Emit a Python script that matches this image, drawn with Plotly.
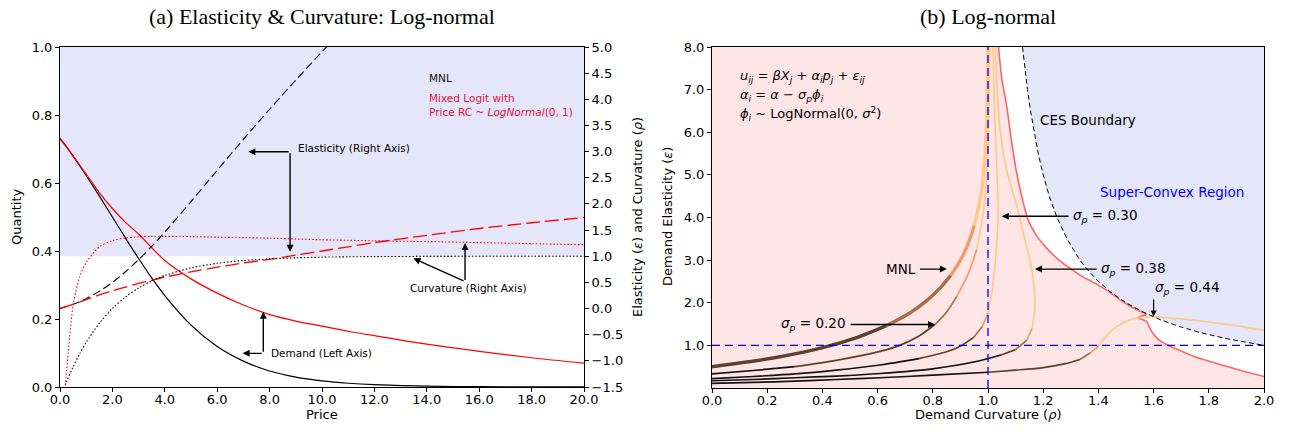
import plotly.graph_objects as go

W, H = 1291, 431
SANS = "DejaVu Sans"
SERIF = "Liberation Serif"


def fx(px):
    """x pixel -> paper fraction"""
    return px / W


def fy(py):
    """y pixel (from top) -> paper fraction"""
    return 1 - py / H


# ---------------- panel (a): quantities along the price path ----------------
price = [0, 0.25, 0.5, 0.75, 1, 1.5, 2, 2.5, 3, 3.5, 4, 5, 6, 7, 8, 9, 10, 11, 12, 14, 16, 18, 20]

mnl_demand = [0.731, 0.706, 0.679, 0.651, 0.622, 0.562, 0.500, 0.438, 0.378, 0.321, 0.269,
              0.182, 0.119, 0.076, 0.047, 0.029, 0.018, 0.011, 0.0067, 0.0025, 0.0009, 0.0003, 0.0001]
mnl_elasticity = [0.0, 0.037, 0.080, 0.131, 0.189, 0.328, 0.500, 0.703, 0.934, 1.188, 1.462,
                  2.044, 2.642, 3.234, 3.810, 4.368, 4.910, 5.44, 5.96, 6.98, 7.99, 9.0, 10.0]
mnl_curvature = [-1.717, -1.401, -1.115, -0.865, -0.646, -0.283, 0.0, 0.221, 0.394, 0.527, 0.632,
                 0.777, 0.865, 0.918, 0.950, 0.970, 0.982, 0.989, 0.993, 0.997, 0.999, 1.0, 1.0]

mixed_demand = [0.731, 0.706, 0.680, 0.653, 0.626, 0.572, 0.525, 0.484, 0.450, 0.410, 0.372,
                0.318, 0.276, 0.241, 0.213, 0.194, 0.179, 0.164, 0.151, 0.126, 0.105, 0.086, 0.070]
mixed_elasticity = [0.0, 0.04, 0.08, 0.125, 0.17, 0.26, 0.34, 0.41, 0.48, 0.54, 0.60,
                    0.70, 0.79, 0.87, 0.94, 1.02, 1.10, 1.18, 1.26, 1.40, 1.53, 1.64, 1.74]
mixed_curvature = [-2.6, -1.2, 0.06, 0.6, 0.88, 1.18, 1.30, 1.35, 1.37, 1.38, 1.38,
                   1.375, 1.365, 1.355, 1.345, 1.33, 1.315, 1.305, 1.295, 1.28, 1.26, 1.24, 1.22]

price_ticks = [0, 2, 4, 6, 8, 10, 12, 14, 16, 18, 20]
price_ticktext = ["0.0", "2.0", "4.0", "6.0", "8.0", "10.0", "12.0", "14.0", "16.0", "18.0", "20.0"]
qty_ticks = [0, 0.2, 0.4, 0.6, 0.8, 1.0]
qty_ticktext = ["0.0", "0.2", "0.4", "0.6", "0.8", "1.0"]
rhs_ticks = [-1.5, -1.0, -0.5, 0, 0.5, 1.0, 1.5, 2.0, 2.5, 3.0, 3.5, 4.0, 4.5, 5.0]
rhs_ticktext = ["\u22121.5", "\u22121.0", "\u22120.5", "0.0", "0.5", "1.0", "1.5", "2.0",
                "2.5", "3.0", "3.5", "4.0", "4.5", "5.0"]

# ---------------- panel (b): curvature / elasticity paths ----------------
# MNL path
mnl_price = [2, 2.5, 3, 3.5, 4, 4.5, 5, 5.5, 6, 6.5, 7, 7.5, 8, 9, 10, 11, 12, 13, 14, 15, 16, 16.5]
mnl_rho = [0.0, 0.221, 0.394, 0.527, 0.632, 0.714, 0.777, 0.826, 0.865, 0.895, 0.918, 0.936,
           0.950, 0.970, 0.982, 0.989, 0.993, 0.996, 0.9975, 0.9985, 0.9991, 0.9993]
mnl_eps = [0.5, 0.703, 0.934, 1.188, 1.462, 1.749, 2.044, 2.343, 2.642, 2.940, 3.234, 3.525,
           3.810, 4.368, 4.910, 5.44, 5.96, 6.47, 6.98, 7.49, 7.99, 8.24]

# sigma_p = 0.20
s20_price = [1.0, 1.5, 2.2, 2.9, 3.5, 3.8, 3.95, 4.4, 5.2, 6.0, 6.8, 8.0, 9, 10, 11, 12, 13]
s20_rho = [0.0, 0.15, 0.3, 0.45, 0.609, 0.68, 0.75, 0.808, 0.85, 0.887, 0.93, 0.959, 0.983,
           0.995, 1.002, 1.005, 1.006]
s20_eps = [0.33, 0.41, 0.5, 0.65, 0.86, 1.0, 1.22, 1.49, 1.78, 2.15, 2.7, 3.25, 4.1, 5.0, 6.0, 7.0, 8.0]

# sigma_p = 0.30
s30_price = [0.8, 1.0, 1.2, 1.4, 1.7, 2.0, 2.8, 3.6, 4.4, 6.0, 8.0, 9, 10, 11, 12, 13, 14, 15, 16]
s30_rho = [0.0, 0.15, 0.3, 0.45, 0.609, 0.75, 0.85, 0.9, 0.95, 0.98, 1.0, 1.015, 1.025, 1.033,
           1.037, 1.035, 1.03, 1.024, 1.018]
s30_eps = [0.22, 0.27, 0.33, 0.42, 0.54, 0.69, 0.85, 0.98, 1.2, 1.45, 1.76, 2.3, 2.85, 3.5,
           4.0, 4.7, 5.5, 6.5, 8.0]

# sigma_p = 0.38
s38_price = [0.5, 0.6, 0.7, 0.8, 1.0, 1.5, 1.9, 2.6, 4.0, 6.0, 8.0, 9, 10, 11, 12, 13, 14, 15, 16, 17]
s38_rho = [0.0, 0.15, 0.3, 0.45, 0.609, 0.8, 0.97, 1.05, 1.1, 1.14, 1.16, 1.17, 1.165, 1.155,
           1.128, 1.098, 1.068, 1.045, 1.033, 1.027]
s38_eps = [0.17, 0.2, 0.24, 0.28, 0.34, 0.45, 0.64, 0.78, 0.9, 1.12, 1.4, 1.9, 2.5, 2.9,
           3.64, 4.42, 5.1, 6.0, 7.0, 8.0]

# sigma_p = 0.44
s44_price = [0.3, 0.4, 0.5, 0.6, 0.7, 0.9, 2.0, 2.4, 2.8, 3.4, 4.3, 6.0, 8.0, 9, 10, 11, 12,
             13, 14, 15, 16]
s44_rho = [0.0, 0.15, 0.3, 0.45, 0.609, 0.8, 1.0, 1.1, 1.2, 1.28, 1.333, 1.37, 1.4, 1.44, 1.49,
           1.545, 1.6, 1.7, 1.82, 1.92, 2.0]
s44_eps = [0.11, 0.13, 0.16, 0.2, 0.24, 0.3, 0.37, 0.42, 0.48, 0.57, 0.67, 0.82, 0.98, 1.3,
           1.53, 1.65, 1.67, 1.62, 1.53, 1.44, 1.35]

# edge of the attainable (log-normal) region
edge_rho = [1.038, 1.05, 1.068, 1.085, 1.104, 1.124, 1.145, 1.175, 1.21, 1.25, 1.29, 1.34, 1.39,
            1.44, 1.48, 1.52, 1.555, 1.575, 1.558, 1.545, 1.552, 1.575, 1.585, 1.6, 1.625, 1.66,
            1.71, 1.76, 1.82, 1.88, 1.94, 2.0]
edge_eps = [8.0, 7.25, 6.6, 5.8, 5.04, 4.45, 3.95, 3.58, 3.3, 3.04, 2.84, 2.62, 2.45, 2.25, 2.06,
            1.9, 1.79, 1.72, 1.69, 1.66, 1.62, 1.56, 1.42, 1.26, 1.1, 0.98, 0.84, 0.71, 0.59,
            0.48, 0.37, 0.27]

# CES boundary
ces_eps = [8.0, 7.5, 7.0, 6.5, 6.0, 5.5, 5.0, 4.5, 4.0, 3.5, 3.0, 2.75, 2.5, 2.25, 2.0, 1.8,
           1.6, 1.45, 1.3, 1.15, 1.0]
ces_rho = [1.125, 1.133, 1.143, 1.154, 1.167, 1.182, 1.2, 1.222, 1.25, 1.286, 1.333, 1.364, 1.4,
           1.444, 1.5, 1.556, 1.625, 1.690, 1.769, 1.870, 2.0]

rho_ticks = [0.0, 0.2, 0.4, 0.6, 0.8, 1.0, 1.2, 1.4, 1.6, 1.8, 2.0]
rho_ticktext = ["0.0", "0.2", "0.4", "0.6", "0.8", "1.0", "1.2", "1.4", "1.6", "1.8", "2.0"]
eps_ticks = [1, 2, 3, 4, 5, 6, 7, 8]
eps_ticktext = ["1.0", "2.0", "3.0", "4.0", "5.0", "6.0", "7.0", "8.0"]

RHO_MAX, EPS_MAX = 2.0, 8.0

fig = go.Figure()


def line(x, y, color, width=1.2, dash="solid", xa="x", ya="y", shape="spline", smoothing=0.8):
    fig.add_trace(go.Scatter(x=x, y=y, mode="lines", xaxis=xa, yaxis=ya, hoverinfo="skip",
                             line=dict(color=color, width=width, dash=dash, shape=shape,
                                       smoothing=smoothing if shape == "spline" else None)))


# ---- panel (a) ----
line(price, mnl_demand, "black")
line(price, mixed_demand, "red")
line(price, mnl_elasticity, "black", 1.1, "8px,4px", ya="y2")
line(price, mixed_elasticity, "red", 1.3, "14px,5px", ya="y2")
line(price, mnl_curvature, "black", 1.1, "1.5px,2px", ya="y2")
line(price, mixed_curvature, "red", 1.1, "1.5px,2px", ya="y2")

# ---- panel (b) ----
# attainable region (pink) and super-convex region (lavender)
fig.add_trace(go.Scatter(x=[0, 0] + edge_rho + [RHO_MAX], y=[0, EPS_MAX] + edge_eps + [0],
                         mode="lines", fill="toself", fillcolor="rgb(255,230,230)",
                         line=dict(width=0), xaxis="x2", yaxis="y3", hoverinfo="skip"))
fig.add_trace(go.Scatter(x=ces_rho + [RHO_MAX], y=ces_eps + [EPS_MAX],
                         mode="lines", fill="toself", fillcolor="rgb(230,230,250)",
                         line=dict(width=0), xaxis="x2", yaxis="y3", hoverinfo="skip"))


def copper(t):
    return "rgba(%d,%d,%d,0.92)" % (round(255 * min(1.0, 1.25 * t)), round(255 * 0.7812 * t),
                                    round(255 * 0.4975 * t))


def price_level(p):
    return min(4, int(p // 2)) / 4.0


def colored_path(rho, eps, prc, width):
    levels = [price_level(p) for p in prc]
    n = len(rho)
    i = 0
    while i < n - 1:
        j = i
        while j + 1 < n - 1 and levels[j + 1] == levels[i]:
            j += 1
        line(rho[i:j + 2], eps[i:j + 2], copper(levels[i]), width, xa="x2", ya="y3",
             smoothing=0.7)
        i = j + 1


line(edge_rho, edge_eps, "rgba(255,85,85,0.9)", 1.6, xa="x2", ya="y3", smoothing=0.5)
colored_path(s44_rho, s44_eps, s44_price, 1.7)
colored_path(s38_rho, s38_eps, s38_price, 1.7)
colored_path(s30_rho, s30_eps, s30_price, 1.7)
colored_path(s20_rho, s20_eps, s20_price, 1.7)
colored_path(mnl_rho, mnl_eps, mnl_price, 3.4)

line([1.0, 1.0], [0, EPS_MAX], "blue", 1.3, "8px,5px", xa="x2", ya="y3", shape="linear")
line([0, RHO_MAX], [1.0, 1.0], "blue", 1.3, "8px,5px", xa="x2", ya="y3", shape="linear")
line(ces_rho, ces_eps, "black", 1.0, "5px,3px", xa="x2", ya="y3", shape="linear")


# ---- text and arrows ----
def label(x, y, text, xref="x", yref="y", size=10.5, color="black", xanchor="left",
          family=SANS, angle=0):
    return dict(x=x, y=y, xref=xref, yref=yref, text=text, showarrow=False, xanchor=xanchor,
                yanchor="middle", textangle=angle, font=dict(family=family, size=size, color=color))


def arrow(x0, y0, x1, y1, xref="x", yref="y", width=1.4):
    return dict(x=x1, y=y1, ax=x0, ay=y0, xref=xref, yref=yref, axref=xref, ayref=yref,
                text="", showarrow=True, arrowhead=2, arrowsize=1, arrowwidth=width,
                arrowcolor="black", standoff=0, startstandoff=0)


ann = [
    # titles
    label(fx(322), fy(17), "(a) Elasticity &amp; Curvature: Log-normal", "paper", "paper",
          22, xanchor="center", family=SERIF),
    label(fx(988), fy(17), "(b) Log-normal", "paper", "paper", 22, xanchor="center",
          family=SERIF),
    # axis titles
    label(fx(322), fy(414), "Price", "paper", "paper", 13, xanchor="center"),
    label(fx(16), fy(217), "Quantity", "paper", "paper", 13, xanchor="center", angle=-90),
    label(fx(637), fy(217), "Elasticity (<i>ε</i>) and Curvature (<i>ρ</i>)", "paper",
          "paper", 13, xanchor="center", angle=-90),
    label(fx(988), fy(414), "Demand Curvature (<i>ρ</i>)", "paper", "paper", 13,
          xanchor="center"),
    label(fx(667), fy(217), "Demand Elasticity (<i>ε</i>)", "paper", "paper", 13,
          xanchor="center", angle=-90),
    # panel (a) notes
    label(14.0, 0.91, "MNL", color="#111111"),
    label(14.0, 0.849, "Mixed Logit with", color="crimson"),
    label(14.0, 0.810, "Price RC ~ <i>LogNormal</i>(0, 1)", color="crimson"),
    label(9.0, 0.702, "Elasticity (Right Axis)"),
    arrow(8.78, 0.692, 7.19, 0.692),
    arrow(8.78, 0.692, 8.78, 0.398),
    label(15.58, 0.290, "Curvature (Right Axis)", xanchor="center"),
    arrow(15.46, 0.310, 15.46, 0.4235),
    arrow(15.46, 0.310, 13.49, 0.3785),
    label(7.99, 0.101, "Demand (Left Axis)"),
    arrow(7.76, 0.099, 6.97, 0.099),
    arrow(7.76, 0.099, 7.76, 0.2215),
    # panel (b) notes
    label(0.094, 7.30, "<i>u<sub>ij</sub></i> = <i>βX<sub>j</sub></i> + <i>α<sub>i</sub>p<sub>j</sub></i>"
          " + <i>ε<sub>ij</sub></i>", "x2", "y3", 13),
    label(0.094, 6.87, "<i>α<sub>i</sub></i> = <i>α</i> − <i>σ<sub>p</sub>ϕ<sub>i</sub></i>",
          "x2", "y3", 13),
    label(0.094, 6.44, "<i>ϕ<sub>i</sub></i> ~ LogNormal(0, <i>σ</i><sup>2</sup>)", "x2", "y3", 13),
    label(1.181, 6.29, "CES Boundary", "x2", "y3", 13.5),
    label(1.399, 4.59, "Super-Convex Region", "x2", "y3", 13.5, color="blue"),
    label(0.746, 2.79, "MNL", "x2", "y3", 13.5, xanchor="right"),
    arrow(0.748, 2.79, 0.851, 2.79, "x2", "y3"),
    label(0.493, 1.49, "<i>σ<sub>p</sub></i> = 0.20", "x2", "y3", 13.5, xanchor="right"),
    arrow(0.497, 1.49, 0.808, 1.49, "x2", "y3"),
    label(1.299, 4.03, "<i>σ<sub>p</sub></i> = 0.30", "x2", "y3", 13.5),
    arrow(1.297, 4.03, 1.050, 4.03, "x2", "y3"),
    label(1.401, 2.79, "<i>σ<sub>p</sub></i> = 0.38", "x2", "y3", 13.5),
    arrow(1.399, 2.79, 1.170, 2.79, "x2", "y3"),
    label(1.598, 2.35, "<i>σ<sub>p</sub></i> = 0.44", "x2", "y3", 13.5),
    arrow(1.600, 2.11, 1.600, 1.68, "x2", "y3", 1.2),
]

tickfont = dict(family=SANS, size=13, color="black")
axis_common = dict(showgrid=False, zeroline=False, showline=True, linecolor="black", linewidth=1,
                   ticks="outside", ticklen=4, tickwidth=1, tickcolor="black", tickfont=tickfont,
                   fixedrange=True, automargin=False)

fig.update_layout(
    width=W, height=H, autosize=False,
    margin=dict(l=0, r=0, t=0, b=0, pad=0, autoexpand=False),
    paper_bgcolor="white", plot_bgcolor="white", showlegend=False,
    font=dict(family=SANS, size=13, color="black"),
    xaxis=dict(axis_common, domain=[fx(60), fx(584)], range=[0, 20], anchor="y", mirror=True,
               tickmode="array", tickvals=price_ticks, ticktext=price_ticktext,
               ticklabelstandoff=-4),
    yaxis=dict(axis_common, domain=[fy(387), fy(47)], range=[0, 1], anchor="x",
               tickmode="array", tickvals=qty_ticks, ticktext=qty_ticktext),
    yaxis2=dict(axis_common, overlaying="y", side="right", range=[-1.5, 5.0], anchor="x",
                tickmode="array", tickvals=rhs_ticks, ticktext=rhs_ticktext),
    xaxis2=dict(axis_common, domain=[fx(712), fx(1264)], range=[0, RHO_MAX], anchor="y3",
                mirror=True, tickmode="array", tickvals=rho_ticks, ticktext=rho_ticktext,
                ticklabelstandoff=-4),
    yaxis3=dict(axis_common, domain=[fy(388), fy(47)], range=[0, EPS_MAX], anchor="x2",
                mirror=True, tickmode="array", tickvals=eps_ticks, ticktext=eps_ticktext),
    shapes=[dict(type="rect", xref="x", yref="y2", x0=0, x1=20, y0=1.0, y1=5.0,
                 fillcolor="rgb(230,230,250)", line=dict(width=0), layer="below")],
    annotations=ann,
)

fig.write_html("out.html", config={"displayModeBar": False})
